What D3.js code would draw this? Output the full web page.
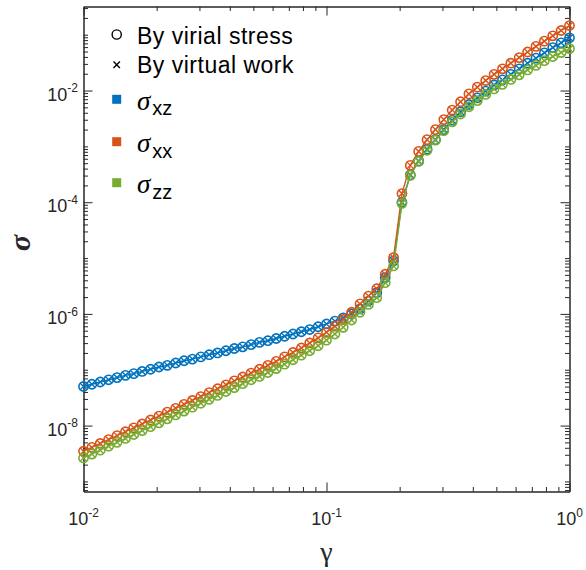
<!DOCTYPE html>
<html><head><meta charset="utf-8">
<script src="https://cdn.jsdelivr.net/npm/d3@7"></script>
<style>body{margin:0;background:#fff}svg{display:block}</style>
</head><body><svg id="c" width="586" height="570"></svg>
<script>
// strain gamma (log-spaced samples)
const gamma = [0.0100,0.01083,0.01172,0.01269,0.01374,0.01488,0.01610,0.01744,0.01888,0.02044,
  0.02212,0.02395,0.02593,0.02807,0.03039,0.03290,0.03562,0.03856,0.04175,0.04520,
  0.04894,0.05298,0.05736,0.06210,0.06723,0.07279,0.07880,0.08532,0.09237,0.1000,
  0.1083,0.1172,0.1269,0.1374,0.1488,0.1610,0.1744,0.1888,0.2044,0.2212,
  0.2395,0.2593,0.2807,0.3039,0.3290,0.3562,0.3856,0.4175,0.4520,0.4894,
  0.5298,0.5736,0.6210,0.6723,0.7279,0.7880,0.8532,0.9237,1.000];
const sigmaXZ = [5.01e-8,5.50e-8,6.03e-8,6.61e-8,7.24e-8,7.94e-8,8.51e-8,9.33e-8,1.02e-7,1.12e-7,
  1.20e-7,1.32e-7,1.45e-7,1.55e-7,1.70e-7,1.86e-7,2.00e-7,2.19e-7,2.40e-7,2.57e-7,
  2.82e-7,3.09e-7,3.31e-7,3.63e-7,3.98e-7,4.37e-7,4.79e-7,5.25e-7,5.89e-7,6.61e-7,
  7.41e-7,8.51e-7,1.00e-6,1.23e-6,1.70e-6,2.40e-6,4.47e-6,8.91e-6,1.00e-4,3.09e-4,
  5.50e-4,8.91e-4,1.32e-3,2.00e-3,2.95e-3,4.17e-3,5.62e-3,7.41e-3,9.77e-3,1.26e-2,
  1.55e-2,1.95e-2,2.45e-2,3.09e-2,3.80e-2,4.73e-2,5.89e-2,7.16e-2,8.81e-2];
const sigmaXX = [3.47e-9,4.07e-9,4.79e-9,5.62e-9,6.61e-9,7.76e-9,9.12e-9,1.07e-8,1.26e-8,1.48e-8,
  1.74e-8,2.04e-8,2.40e-8,2.82e-8,3.31e-8,3.89e-8,4.57e-8,5.37e-8,6.31e-8,7.41e-8,
  8.71e-8,1.02e-7,1.20e-7,1.41e-7,1.70e-7,2.04e-7,2.45e-7,3.02e-7,3.72e-7,4.68e-7,
  6.03e-7,7.94e-7,1.07e-6,1.51e-6,2.09e-6,2.82e-6,5.13e-6,1.02e-5,1.43e-4,4.57e-4,
  8.13e-4,1.32e-3,2.00e-3,3.02e-3,4.47e-3,6.31e-3,8.71e-3,1.15e-2,1.51e-2,1.95e-2,
  2.45e-2,3.09e-2,3.89e-2,4.90e-2,6.17e-2,7.67e-2,9.55e-2,0.119,0.146];
const sigmaZZ = [2.63e-9,3.09e-9,3.63e-9,4.27e-9,5.01e-9,5.89e-9,6.92e-9,8.13e-9,9.55e-9,1.12e-8,
  1.32e-8,1.55e-8,1.82e-8,2.14e-8,2.51e-8,2.95e-8,3.47e-8,4.07e-8,4.79e-8,5.62e-8,
  6.61e-8,7.59e-8,8.91e-8,1.05e-7,1.26e-7,1.51e-7,1.82e-7,2.19e-7,2.69e-7,3.39e-7,
  4.37e-7,5.75e-7,7.76e-7,1.07e-6,1.48e-6,1.95e-6,3.63e-6,7.24e-6,9.55e-5,3.02e-4,
  5.37e-4,8.51e-4,1.29e-3,1.91e-3,2.75e-3,3.80e-3,5.13e-3,6.61e-3,8.51e-3,1.07e-2,
  1.29e-2,1.58e-2,1.91e-2,2.34e-2,2.82e-2,3.43e-2,4.07e-2,4.79e-2,5.62e-2];
const seriesKeys = ["xz","xx","zz"];
const seriesColors = ["#0072BD","#D95319","#77AC30"];
const methodLabels = ["By virial stress","By virtual work"];
const xTickExps = [-2,-1,0];
const yTickExps = [-8,-6,-4,-2];

const svg = d3.select("#c");
const L=83.5, R=569.5, T=6.5, B=491.5;
const x = d3.scaleLog().domain([0.01,1]).range([L,R]);
const y = d3.scaleLog().domain([6.6e-10,0.32]).range([B,T]);
const axisCol = "#262626";

const xMinor=[], yMinor=[];
for (let e=-2;e<0;e++) for (let m=2;m<=9;m++) xMinor.push(m*Math.pow(10,e));
for (let e=-10;e<0;e++) for (let m=1;m<=9;m++){const v=m*Math.pow(10,e); if(v>=6.6e-10&&v<=0.32 && !(m===1&&yTickExps.includes(e))) yMinor.push(v);}
const xMajor = xTickExps.map(e=>Math.pow(10,e));
const yMajor = yTickExps.map(e=>Math.pow(10,e));
const MAJ=9, MIN=4.5;

function drawAxis(gen, tr){
  const g = svg.append("g").attr("transform",tr).call(gen);
  g.selectAll("path,line").attr("stroke",axisCol).attr("stroke-width",1);
  g.selectAll("text").remove();
  return g;
}
drawAxis(d3.axisBottom(x).tickValues(xMajor).tickSizeInner(-MAJ).tickSizeOuter(0).tickFormat(""),`translate(0,${B})`);
drawAxis(d3.axisBottom(x).tickValues(xMinor).tickSizeInner(-MIN).tickSizeOuter(0).tickFormat(""),`translate(0,${B})`);
drawAxis(d3.axisTop(x).tickValues(xMajor).tickSizeInner(-MAJ).tickSizeOuter(0).tickFormat(""),`translate(0,${T})`);
drawAxis(d3.axisTop(x).tickValues(xMinor).tickSizeInner(-MIN).tickSizeOuter(0).tickFormat(""),`translate(0,${T})`);
drawAxis(d3.axisLeft(y).tickValues(yMajor).tickSizeInner(-MAJ).tickSizeOuter(0).tickFormat(""),`translate(${L},0)`);
drawAxis(d3.axisLeft(y).tickValues(yMinor).tickSizeInner(-MIN).tickSizeOuter(0).tickFormat(""),`translate(${L},0)`);
drawAxis(d3.axisRight(y).tickValues(yMajor).tickSizeInner(-MAJ).tickSizeOuter(0).tickFormat(""),`translate(${R},0)`);
drawAxis(d3.axisRight(y).tickValues(yMinor).tickSizeInner(-MIN).tickSizeOuter(0).tickFormat(""),`translate(${R},0)`);

const font = "'Liberation Sans', Arial, sans-serif";
xTickExps.forEach(e=>{
  const t = svg.append("text").attr("x",x(Math.pow(10,e))).attr("y",B+33.5)
    .attr("text-anchor","middle").attr("font-family",font).attr("font-size",18).attr("fill","#262626");
  t.append("tspan").text("10");
  t.append("tspan").attr("font-size",12).attr("dy",-8.3).text(String(e));
});
yTickExps.forEach(e=>{
  const t = svg.append("text").attr("x",78).attr("y",y(Math.pow(10,e))+10)
    .attr("text-anchor","end").attr("font-family",font).attr("font-size",18).attr("fill","#262626");
  t.append("tspan").text("10");
  t.append("tspan").attr("font-size",12).attr("dy",-8.3).text(String(e));
});
svg.append("text").attr("x",326.5).attr("y",561).attr("text-anchor","middle")
  .attr("font-family","'Liberation Serif', serif").attr("font-size",28).attr("fill","#262626").text("γ");
svg.append("text").attr("transform","translate(30,243) rotate(-90)").attr("text-anchor","middle")
  .attr("font-family","'Liberation Serif', serif").attr("font-weight","bold").attr("font-style","italic").attr("font-size",30).attr("fill","#262626").text("σ");

const series = [sigmaXZ, sigmaXX, sigmaZZ];
const plot = svg.append("g");
const line = d3.line().x(d=>x(d[0])).y(d=>y(d[1]));
const xs = 3.5;
series.forEach((vals,i)=>{
  const pts = gamma.map((g,j)=>[g,vals[j]]);
  const c = seriesColors[i];
  const g = plot.append("g");
  g.append("path").attr("d",line(pts)).attr("fill","none").attr("stroke",c).attr("stroke-width",1.4);
  g.selectAll("path.x").data(pts).enter().append("path").attr("class","x")
    .attr("d",d=>{const px=x(d[0]),py=y(d[1]);return `M${px-xs},${py-xs}L${px+xs},${py+xs}M${px-xs},${py+xs}L${px+xs},${py-xs}`;})
    .attr("stroke",c).attr("stroke-width",1.4).attr("fill","none");
  g.selectAll("circle").data(pts).enter().append("circle")
    .attr("cx",d=>x(d[0])).attr("cy",d=>y(d[1])).attr("r",4.6)
    .attr("fill","none").attr("stroke",c).attr("stroke-width",1.6);
});

const lg = svg.append("g");
lg.append("circle").attr("cx",116.7).attr("cy",34.5).attr("r",4.6).attr("fill","none").attr("stroke","#000").attr("stroke-width",1.4);
lg.append("path").attr("d",`M${116.7-3.2},${64.7-3.2}L${116.7+3.2},${64.7+3.2}M${116.7-3.2},${64.7+3.2}L${116.7+3.2},${64.7-3.2}`).attr("stroke","#000").attr("stroke-width",1.4);
lg.append("text").attr("x",137).attr("y",43.5).attr("font-family",font).attr("font-size",23).attr("letter-spacing",0.5).attr("fill","#000").text(methodLabels[0]);
lg.append("text").attr("x",137).attr("y",73).attr("font-family",font).attr("font-size",23).attr("letter-spacing",0.5).attr("fill","#000").text(methodLabels[1]);
const rowY = [99.3,141.7,182.7];
seriesKeys.forEach((k,i)=>{
  lg.append("rect").attr("x",112.2).attr("y",rowY[i]-4.5).attr("width",9).attr("height",9).attr("fill",seriesColors[i]);
  const t = lg.append("text").attr("x",137).attr("y",rowY[i]+10.5).attr("fill","#000");
  t.append("tspan").attr("font-family","'Liberation Serif', serif").attr("font-style","italic").attr("font-size",27).text("σ");
  t.append("tspan").attr("font-family",font).attr("font-size",20).attr("dx",2).attr("dy",5.5).text(k);
});
</script></body></html>
